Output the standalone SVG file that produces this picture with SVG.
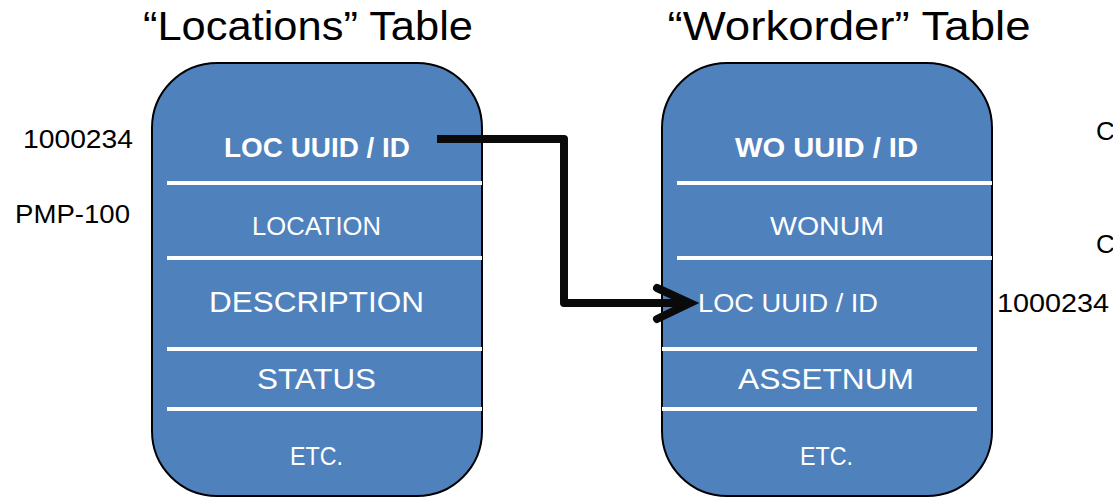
<svg xmlns="http://www.w3.org/2000/svg" width="1113" height="497" viewBox="0 0 1113 497">
<style>
.tbl{fill:#4F81BD;stroke:#000;stroke-width:2}
.div{stroke:#fff;stroke-width:4}
.cell{fill:#fff;font-family:"Liberation Sans",Arial,sans-serif;text-anchor:middle}
.b{font-weight:bold}
.title{fill:#000;font-family:"Liberation Sans",Arial,sans-serif;font-size:40px;text-anchor:middle}
.lbl{fill:#000;font-family:"Liberation Sans",Arial,sans-serif;font-size:26px}
.conn{fill:none;stroke:#0a0a0a;stroke-width:8}
</style>
<rect width="1113" height="497" fill="#fff"/>
<text class="title" x="308" y="40" textLength="330" lengthAdjust="spacingAndGlyphs">“Locations” Table</text>
<text class="title" x="849" y="40" textLength="363" lengthAdjust="spacingAndGlyphs">“Workorder” Table</text>
<g id="locations">
<rect class="tbl" x="152" y="63" width="330" height="433" rx="65" ry="65"/>
<line class="div" x1="167" y1="183" x2="482" y2="183"/>
<line class="div" x1="167" y1="258" x2="482" y2="258"/>
<line class="div" x1="167" y1="349" x2="482" y2="349"/>
<line class="div" x1="167" y1="409" x2="482" y2="409"/>
<text class="cell b" x="317" y="157" font-size="28" textLength="186" lengthAdjust="spacingAndGlyphs">LOC UUID / ID</text>
<text class="cell" x="316.5" y="235" font-size="26" textLength="129" lengthAdjust="spacingAndGlyphs">LOCATION</text>
<text class="cell" x="316.5" y="312" font-size="30" textLength="215" lengthAdjust="spacingAndGlyphs">DESCRIPTION</text>
<text class="cell" x="316.5" y="389" font-size="30" textLength="119" lengthAdjust="spacingAndGlyphs">STATUS</text>
<text class="cell" x="316.5" y="465" font-size="25" textLength="53" lengthAdjust="spacingAndGlyphs">ETC.</text>
</g>
<g id="workorder">
<rect class="tbl" x="662" y="63" width="330" height="433" rx="65" ry="65"/>
<line class="div" x1="677" y1="183" x2="992" y2="183"/>
<line class="div" x1="677" y1="258" x2="992" y2="258"/>
<line class="div" x1="662" y1="349" x2="977" y2="349"/>
<line class="div" x1="662" y1="409" x2="977" y2="409"/>
<text class="cell b" x="826.5" y="157" font-size="28" textLength="183" lengthAdjust="spacingAndGlyphs">WO UUID / ID</text>
<text class="cell" x="827" y="235" font-size="26" textLength="114" lengthAdjust="spacingAndGlyphs">WONUM</text>
<text class="cell" x="788" y="312" font-size="26" textLength="180" lengthAdjust="spacingAndGlyphs">LOC UUID / ID</text>
<text class="cell" x="826" y="389" font-size="30" textLength="176" lengthAdjust="spacingAndGlyphs">ASSETNUM</text>
<text class="cell" x="826.5" y="465" font-size="25" textLength="53" lengthAdjust="spacingAndGlyphs">ETC.</text>
</g>
<g id="labels">
<text class="lbl" x="23" y="148" textLength="110" lengthAdjust="spacingAndGlyphs">1000234</text>
<text class="lbl" x="15" y="223" textLength="115" lengthAdjust="spacingAndGlyphs">PMP-100</text>
<text class="lbl" x="997" y="312" textLength="112" lengthAdjust="spacingAndGlyphs">1000234</text>
<text class="lbl" x="1096" y="140" font-size="24">C</text>
<text class="lbl" x="1096" y="253" font-size="24">C</text>
</g>
<g id="connectors">
<path class="conn" d="M437,139 H564 V303 H686" stroke-linejoin="round"/>
<path class="conn" d="M657,288 L690,303 L657,319" stroke-linecap="round" stroke-linejoin="miter"/>
</g>
</svg>
